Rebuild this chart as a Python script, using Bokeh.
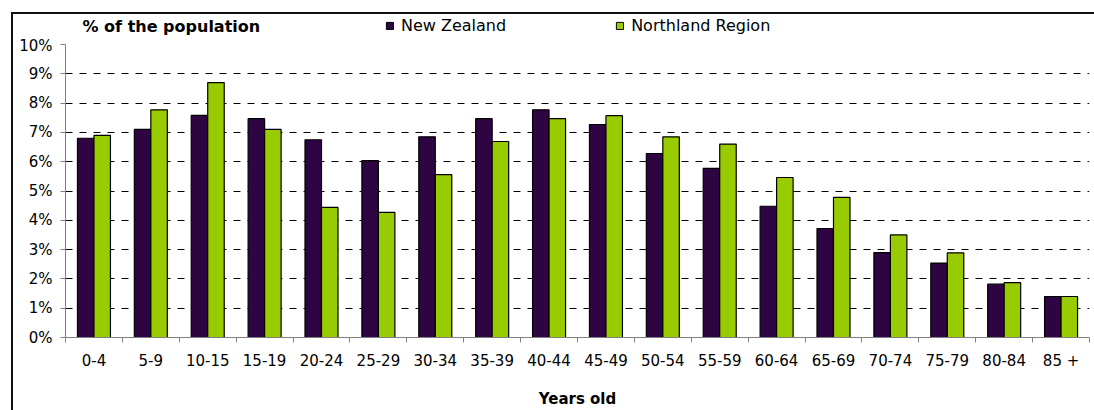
import numpy as np
from bokeh.plotting import figure
from bokeh.layouts import column
from bokeh.models import (Range1d, FixedTicker, PrintfTickFormatter, Legend, LegendItem,
                          ColumnDataSource, Label)
from bokeh.transform import dodge
from bokeh.embed import file_html
from bokeh.resources import INLINE

categories = ["0-4", "5-9", "10-15", "15-19", "20-24", "25-29", "30-34", "35-39", "40-44",
              "45-49", "50-54", "55-59", "60-64", "65-69", "70-74", "75-79", "80-84", "85 +"]
new_zealand = [6.80, 7.10, 7.58, 7.47, 6.75, 6.04, 6.85, 7.47, 7.77,
               7.27, 6.28, 5.77, 4.48, 3.72, 2.90, 2.54, 1.82, 1.40]
northland = [6.90, 7.77, 8.70, 7.10, 4.44, 4.27, 5.56, 6.69, 7.47,
             7.57, 6.85, 6.60, 5.46, 4.78, 3.50, 2.89, 1.87, 1.40]
y_ticks = list(range(0, 11))

chart_title = "% of the population"
x_title = "Years old"
series_names = ["New Zealand", "Northland Region"]
colors = ["#2e0442", "#99cc00"]

n = len(categories)
centers = np.arange(n) + 0.5
bounds = list(np.arange(n + 1).astype(float))

FONT = "DejaVu Sans"
W = 1081

src = ColumnDataSource(dict(x=centers, nz=new_zealand, nr=northland))

# ---------- header (title + legend) ----------
h = figure(width=W, height=22, output_backend="svg", toolbar_location=None,
           x_range=Range1d(0, 1), y_range=Range1d(0, 22), min_border=0,
           x_axis_location=None, y_axis_location=None)
h.grid.visible = False
h.outline_line_color = None
h.background_fill_color = "white"
h.border_fill_color = "white"

h.add_layout(Label(x=17, y=10, x_units="screen", text=chart_title, text_font=FONT,
                   text_font_size="16px", text_font_style="bold", text_color="black",
                   text_baseline="middle"))

# legend-only renderers (hidden; they only supply the legend swatches)
lr1 = h.vbar(x="x", top="nz", width=0.29, source=src, fill_color=colors[0],
             line_color="black", visible=False)
lr2 = h.vbar(x="x", top="nr", width=0.29, source=src, fill_color=colors[1],
             line_color="black", visible=False)
legend = Legend(items=[LegendItem(label=series_names[0], renderers=[lr1]),
                       LegendItem(label=series_names[1], renderers=[lr2])],
                orientation="horizontal", location=(320, 1),
                glyph_width=9, glyph_height=9, label_standoff=7, spacing=109,
                padding=0, margin=0, border_line_color=None, background_fill_alpha=0,
                label_text_font=FONT, label_text_font_size="16px", label_text_color="black",
                label_height=9)
h.add_layout(legend, "center")

# ---------- main chart ----------
p = figure(width=W, height=374, output_backend="svg", toolbar_location=None,
           x_range=Range1d(0, n), y_range=Range1d(0, 10),
           min_border_left=52, min_border_right=5, min_border_top=8, min_border_bottom=73)
p.background_fill_color = "white"
p.border_fill_color = "white"
p.outline_line_color = None

r1 = p.vbar(x=dodge("x", -0.145), top="nz", width=0.29, source=src,
            fill_color=colors[0], line_color="black", line_width=1.2)
r2 = p.vbar(x=dodge("x", 0.145), top="nr", width=0.29, source=src,
            fill_color=colors[1], line_color="black", line_width=1.2)

ya = p.yaxis[0]
ya.ticker = FixedTicker(ticks=y_ticks)
ya.formatter = PrintfTickFormatter(format="%d%%")
ya.axis_line_color = "#808080"
ya.major_tick_line_color = "#808080"
ya.major_tick_out = 5
ya.major_tick_in = 0
ya.minor_tick_line_color = None
ya.major_label_standoff = 8
ya.major_label_text_font = FONT
ya.major_label_text_font_size = "15px"
ya.major_label_text_color = "black"

xa = p.xaxis[0]
xa.ticker = FixedTicker(ticks=list(centers), minor_ticks=bounds)
xa.major_label_overrides = {float(c): lab for c, lab in zip(centers, categories)}
xa.axis_line_color = "#808080"
xa.major_tick_out = 0
xa.major_tick_in = 0
xa.major_tick_line_color = None
xa.minor_tick_out = 5
xa.minor_tick_in = 0
xa.minor_tick_line_color = "#808080"
xa.major_label_standoff = 9
xa.major_label_text_font = FONT
xa.major_label_text_font_size = "15px"
xa.major_label_text_color = "black"
xa.axis_label = x_title
xa.axis_label_text_font = FONT
xa.axis_label_text_font_size = "15px"
xa.axis_label_text_font_style = "bold"
xa.axis_label_text_color = "black"
xa.axis_label_standoff = 17

p.xgrid.grid_line_color = None
p.ygrid.ticker = FixedTicker(ticks=y_ticks[1:])
p.ygrid.grid_line_color = "black"
p.ygrid.grid_line_width = 1
p.ygrid.grid_line_dash = "7 7"

layout = column(h, p, spacing=0)
layout.margin = (12, 0, 0, 11)
layout.styles = {"border-top": "2px solid #111111", "border-left": "2px solid #111111",
                 "background-color": "white"}

open("out.html", "w").write(file_html(layout, INLINE))
